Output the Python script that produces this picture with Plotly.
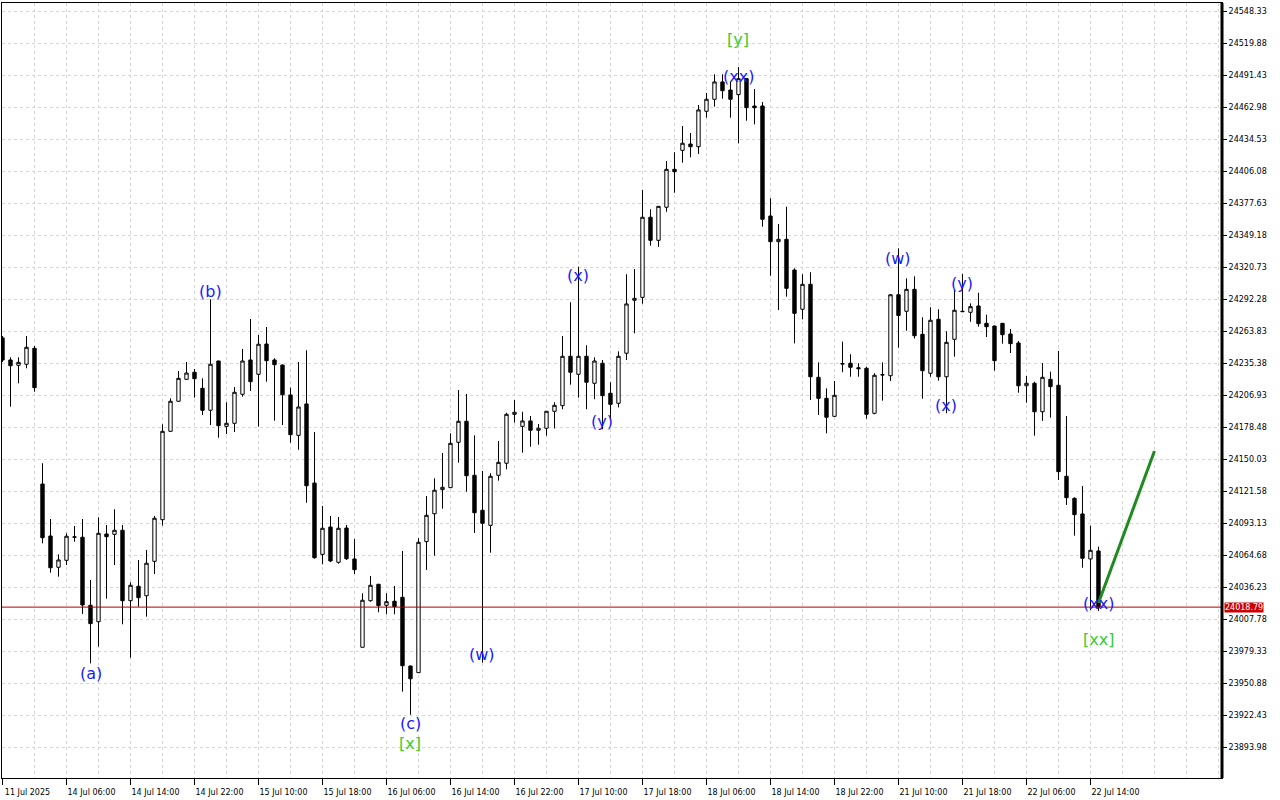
import plotly.graph_objects as go

# ---------------- data (hourly bars) ----------------
bar_index = list(range(138))

open_ = [
    24258.1, 24238.5, 24233.8, 24234.7, 24248.9, 24128.2, 24082.0, 24054.2, 24060.4, 24080.9,
    24080.9, 24020.4, 24005.8, 24083.8, 24083.5, 24087.1, 24024.5, 24037.3, 24028.9, 24059.5,
    24096.5, 24175.1, 24201.8, 24221.3, 24227.6, 24213.3, 24193.8, 24237.6, 24179.5, 24182.2,
    24208.0, 24238.5, 24225.8, 24252.7, 24238.5, 24234.0, 24207.4, 24171.5, 24199.4, 24129.1,
    24065.7, 24090.0, 24058.6, 24089.1, 24061.6, 23983.1, 24024.5, 24039.1, 24020.4, 24024.0,
    24027.5, 23966.4, 23960.5, 24077.0, 24101.8, 24123.2, 24125.0, 24165.3, 24184.0, 24136.0,
    24104.9, 24091.5, 24136.0, 24146.7, 24190.2, 24179.5, 24184.3, 24176.0, 24177.8, 24192.9,
    24197.9, 24241.8, 24225.8, 24241.8, 24217.8, 24235.6, 24208.9, 24200.0, 24244.5, 24291.6,
    24294.2, 24365.4, 24344.9, 24374.3, 24408.0, 24424.9, 24430.5, 24428.1, 24459.6, 24470.3,
    24485.7, 24478.5, 24474.4, 24488.6, 24464.3, 24464.3, 24366.5, 24343.7, 24345.8, 24318.5,
    24283.6, 24305.8, 24223.1, 24204.4, 24188.4, 24234.9, 24235.6, 24231.6, 24231.1, 24191.1,
    24225.2, 24224.5, 24296.5, 24281.8, 24301.3, 24261.3, 24226.7, 24274.7, 24223.6, 24256.9,
    24281.4, 24280.9, 24286.5, 24271.1, 24268.7, 24271.1, 24261.6, 24253.6, 24215.6, 24217.8,
    24192.5, 24221.3, 24216.0, 24135.1, 24115.5, 24101.6, 24061.6, 24068.7,
]
high = [
    24259.8, 24240.9, 24240.9, 24259.8, 24250.9, 24146.7, 24097.1, 24065.7, 24084.4, 24090.9,
    24097.1, 24042.9, 24098.6, 24091.8, 24105.8, 24091.8, 24040.9, 24060.7, 24069.6, 24099.8,
    24181.3, 24204.4, 24228.7, 24236.7, 24230.5, 24222.2, 24292.5, 24237.9, 24200.9, 24214.5,
    24248.3, 24274.9, 24260.7, 24267.8, 24240.0, 24234.5, 24213.9, 24236.7, 24247.1, 24174.5,
    24108.7, 24099.8, 24098.9, 24091.8, 24079.4, 24031.1, 24046.5, 24039.4, 24031.1, 24037.6,
    24068.7, 23966.8, 24080.0, 24117.6, 24133.3, 24155.8, 24173.3, 24211.8, 24208.3, 24171.5,
    24139.8, 24137.8, 24166.5, 24191.6, 24202.9, 24192.5, 24188.7, 24181.6, 24193.2, 24200.9,
    24259.8, 24289.8, 24321.4, 24251.6, 24240.9, 24238.5, 24218.7, 24246.2, 24314.7, 24319.4,
    24389.6, 24372.5, 24375.4, 24415.4, 24423.2, 24446.5, 24440.3, 24465.2, 24475.9, 24492.5,
    24492.5, 24485.9, 24499.0, 24488.9, 24479.4, 24467.9, 24382.3, 24359.4, 24374.8, 24320.0,
    24314.7, 24316.5, 24236.4, 24213.3, 24219.8, 24254.8, 24243.6, 24235.6, 24232.5, 24226.7,
    24236.4, 24296.8, 24337.8, 24311.1, 24312.9, 24276.5, 24285.4, 24283.6, 24264.0, 24301.3,
    24315.0, 24288.9, 24298.3, 24278.8, 24269.0, 24271.4, 24266.1, 24255.4, 24224.3, 24219.2,
    24235.8, 24228.1, 24246.5, 24188.7, 24116.4, 24126.5, 24091.2, 24072.5,
]
low = [
    24236.7, 24197.0, 24217.8, 24231.1, 24210.3, 24075.5, 24049.4, 24045.8, 24056.2, 24077.0,
    24012.7, 23968.8, 23983.6, 24026.3, 24056.2, 24003.5, 23973.8, 24019.2, 24010.3, 24048.2,
    24091.2, 24174.7, 24201.4, 24220.9, 24205.0, 24189.6, 24180.7, 24169.4, 24172.7, 24174.5,
    24205.9, 24210.9, 24179.2, 24219.2, 24184.5, 24180.7, 24165.0, 24158.7, 24111.6, 24061.8,
    24056.9, 24058.9, 24057.4, 24060.7, 24048.2, 23982.9, 24023.6, 24014.2, 24012.4, 24012.4,
    23943.6, 23923.1, 23960.2, 24051.8, 24064.5, 24106.3, 24124.6, 24147.2, 24121.4, 24084.7,
    23969.4, 24067.2, 24131.2, 24141.3, 24182.8, 24156.1, 24161.4, 24163.2, 24171.2, 24177.6,
    24194.7, 24216.5, 24205.0, 24194.7, 24203.6, 24176.9, 24185.8, 24196.4, 24238.5, 24262.2,
    24288.5, 24340.1, 24339.2, 24370.3, 24387.2, 24413.9, 24418.7, 24421.6, 24453.9, 24463.7,
    24470.8, 24453.9, 24431.2, 24451.2, 24448.0, 24357.0, 24313.4, 24282.9, 24294.8, 24253.3,
    24274.7, 24202.9, 24189.6, 24173.3, 24188.1, 24227.6, 24223.6, 24223.6, 24186.3, 24190.2,
    24202.3, 24219.8, 24249.4, 24264.5, 24257.6, 24204.1, 24223.6, 24220.1, 24191.1, 24241.4,
    24281.1, 24272.5, 24268.1, 24258.9, 24229.0, 24253.0, 24244.7, 24209.4, 24200.5, 24171.2,
    24184.3, 24187.2, 24131.8, 24109.6, 24082.3, 24053.8, 24016.2, 24015.3,
]
close = [
    24238.5, 24233.4, 24236.4, 24249.8, 24213.9, 24080.5, 24053.8, 24060.7, 24081.8, 24081.2,
    24020.7, 24004.1, 24084.4, 24081.4, 24087.1, 24024.5, 24038.2, 24027.2, 24057.8, 24097.8,
    24175.1, 24201.8, 24222.2, 24226.9, 24221.9, 24193.8, 24234.7, 24180.1, 24182.2, 24209.8,
    24237.6, 24219.2, 24252.5, 24237.9, 24234.3, 24207.6, 24172.1, 24196.7, 24126.7, 24062.7,
    24088.9, 24059.8, 24088.9, 24061.8, 24052.1, 24024.9, 24038.2, 24020.1, 24023.6, 24019.2,
    23966.7, 23955.1, 24076.4, 24100.4, 24122.7, 24125.3, 24164.4, 24184.0, 24135.6, 24102.7,
    24093.3, 24135.1, 24147.5, 24190.2, 24192.0, 24184.3, 24176.0, 24177.8, 24192.9, 24198.2,
    24241.8, 24227.6, 24241.8, 24218.7, 24237.6, 24206.8, 24199.1, 24241.8, 24288.3, 24293.3,
    24365.4, 24344.9, 24375.1, 24408.0, 24405.9, 24431.2, 24428.1, 24460.8, 24470.3, 24485.7,
    24477.9, 24470.3, 24488.6, 24462.8, 24462.8, 24363.6, 24343.7, 24345.8, 24302.2, 24280.0,
    24305.8, 24223.6, 24204.4, 24187.6, 24207.1, 24235.2, 24232.0, 24230.8, 24190.2, 24224.9,
    24225.4, 24296.5, 24278.1, 24301.3, 24260.1, 24229.0, 24273.8, 24223.6, 24254.2, 24282.7,
    24281.7, 24285.9, 24270.8, 24268.1, 24237.9, 24261.0, 24253.0, 24215.6, 24217.8, 24192.5,
    24223.1, 24214.8, 24139.2, 24116.1, 24101.0, 24062.2, 24069.3, 24018.79,
]

time_label_idx = [0, 8, 16, 24, 32, 40, 48, 56, 64, 72, 80, 88, 96, 104, 112, 120, 128, 136]
time_labels = [
    "11 Jul 2025", "14 Jul 06:00", "14 Jul 14:00", "14 Jul 22:00", "15 Jul 10:00",
    "15 Jul 18:00", "16 Jul 06:00", "16 Jul 14:00", "16 Jul 22:00", "17 Jul 10:00",
    "17 Jul 18:00", "18 Jul 06:00", "18 Jul 14:00", "18 Jul 22:00", "21 Jul 10:00",
    "21 Jul 18:00", "22 Jul 06:00", "22 Jul 14:00",
]
grid_idx = [i for i in range(0, 153, 4) if i not in time_label_idx]

price_ticks = [
    24548.33, 24519.88, 24491.43, 24462.98, 24434.53, 24406.08, 24377.63, 24349.18,
    24320.73, 24292.28, 24263.83, 24235.38, 24206.93, 24178.48, 24150.03, 24121.58,
    24093.13, 24064.68, 24036.23, 24007.78, 23979.33, 23950.88, 23922.43, 23893.98,
]
last_price = 24018.79

wave_labels = ["(a)", "(b)", "(c)", "[x]", "(w)", "(x)", "(y)", "[y]", "(xx)",
               "(w)", "(x)", "(y)", "(xx)", "[xx]"]
wave_idx = [11, 26, 51, 51, 60, 72, 75, 92, 92, 112, 118, 120, 137, 137]
wave_price = [23960.2, 24299.8, 23915.7, 23897.9, 23977.1, 24313.2, 24184.2, 24523.0,
              24490.1, 24329.1, 24198.4, 24306.9, 24022.4, 23990.4]

trend_idx = [137, 144]
trend_price = [24022.5, 24157.6]

# ---------------- figure ----------------
fig = go.Figure()

fig.add_trace(go.Candlestick(
    x=bar_index, open=open_, high=high, low=low, close=close,
    increasing=dict(line=dict(color="black", width=1), fillcolor="white"),
    decreasing=dict(line=dict(color="black", width=1), fillcolor="black"),
    whiskerwidth=0, showlegend=False, hoverinfo="skip",
))

fig.add_trace(go.Scatter(
    x=trend_idx, y=trend_price, mode="lines",
    line=dict(color="#1f8a1f", width=3), showlegend=False, hoverinfo="skip",
))

# current price line
fig.add_shape(type="line", xref="paper", x0=0, x1=1, yref="y", y0=last_price, y1=last_price,
              line=dict(color="#b00000", width=1), layer="above")
# thick right frame line
fig.add_shape(type="line", xref="paper", x0=1, x1=1, yref="paper", y0=0, y1=1,
              line=dict(color="black", width=3), layer="above")

for lab, xi, yp in zip(wave_labels, wave_idx, wave_price):
    col = "#32cd32" if lab.startswith("[") else "#1a1aff"
    fig.add_annotation(x=xi, y=yp, xref="x", yref="y", text=lab, showarrow=False,
                       font=dict(family="DejaVu Sans", size=16, color=col))

fig.add_annotation(x=1, xref="paper", xanchor="left", xshift=2, y=last_price, yref="y",
                   yanchor="middle", text=f"{last_price:.2f}", showarrow=False,
                   bgcolor="#cc0000", borderpad=0,
                   font=dict(family="DejaVu Sans", size=8, color="white"))

grid_style = dict(gridcolor="#d6d6d6", griddash="3px,3px", gridwidth=1)

fig.update_layout(
    width=1280, height=800,
    margin=dict(l=2, r=58, t=3, b=22),
    paper_bgcolor="white", plot_bgcolor="white",
    showlegend=False, boxgap=0.4,
    font=dict(family="DejaVu Sans", size=8, color="black"),
)
fig.update_xaxes(
    range=[-0.0625, 152.44], rangeslider_visible=False,
    tickmode="array", tickvals=time_label_idx, ticktext=time_labels,
    ticks="outside", ticklen=6, tickcolor="black", ticklabelshift=25,
    showgrid=True, **grid_style,
    minor=dict(tickmode="array", tickvals=grid_idx, showgrid=True, ticks="", **grid_style),
    showline=True, linecolor="black", linewidth=1, mirror=True, zeroline=False,
)
fig.update_yaxes(
    side="right", range=[23866.86, 24555.88],
    tickmode="array", tickvals=price_ticks, ticktext=[f"{v:.2f}" for v in price_ticks],
    ticks="outside", ticklen=4, tickcolor="black",
    showgrid=True, **grid_style,
    showline=True, linecolor="black", linewidth=1, mirror=True, zeroline=False,
)

fig.write_html(
    "out.html",
    config={"displayModeBar": False},
    post_script="document.body.style.margin='0';document.body.style.overflow='hidden';",
)
